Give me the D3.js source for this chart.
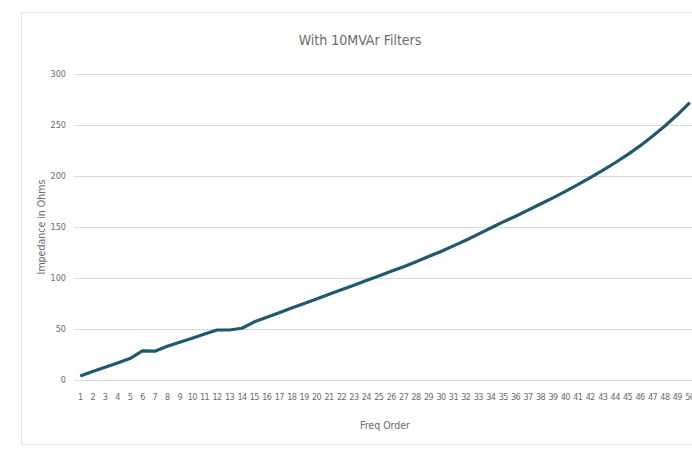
<!DOCTYPE html>
<html>
<head>
    <title>With 10MVAr Filters</title>
    <script src="https://cdnjs.cloudflare.com/ajax/libs/d3/7.8.5/d3.min.js"></script>
    <style>
        body {
            margin: 0;
            background: #fff;
        }

        text {
            font-family: "DejaVu Sans Condensed", "Liberation Sans Narrow", "Roboto", sans-serif;
            fill: #6b6b6b;
        }

        .grid line {
            stroke: #d9d9d9;
            stroke-width: 1px;
        }

        .series {
            fill: none;
            stroke: #22586e;
            stroke-width: 3.2px;
            stroke-linejoin: round;
        }
    </style>
</head>
<body>
<svg id="chart"></svg>

<script>
    const width = 692;
    const height = 455;

    // Freq order categories 1..50
    const orders = ["1","2","3","4","5","6","7","8","9","10",
        "11","12","13","14","15","16","17","18","19","20",
        "21","22","23","24","25","26","27","28","29","30",
        "31","32","33","34","35","36","37","38","39","40",
        "41","42","43","44","45","46","47","48","49","50"];

    // Impedance in Ohms
    const impedance = [4, 8.3, 12.5, 16.7, 21, 28.5, 28.3, 33, 37, 41,
        45, 49, 49, 50.7, 57, 61.5, 66, 70.5, 75, 79.5,
        84, 88.5, 93, 97.5, 102, 106.5, 111, 116, 121, 126,
        131.5, 137, 143, 149, 155, 160.5, 166.5, 172.5, 178.5, 185,
        191.5, 198.5, 205.5, 213, 221, 229.5, 239, 249, 260, 272];

    const yTicks = [0, 50, 100, 150, 200, 250, 300];

    const margin = { top: 74, right: -4, bottom: 75, left: 74 };

    const svg = d3.select("#chart")
        .attr("width", width)
        .attr("height", height);

    // chart area border
    svg.append("rect")
        .attr("x", 21.5)
        .attr("y", 12.5)
        .attr("width", 700)
        .attr("height", 432)
        .attr("fill", "#fff")
        .attr("stroke", "#e3e3e3");

    const x = d3.scaleBand()
        .domain(orders)
        .range([margin.left, width - margin.right])
        .padding(0);

    const y = d3.scaleLinear()
        .domain([0, 300])
        .range([height - margin.bottom, margin.top]);

    // gridlines
    svg.append("g")
        .attr("class", "grid")
        .selectAll("line")
        .data(yTicks)
        .join("line")
        .attr("x1", margin.left)
        .attr("x2", width - margin.right)
        .attr("y1", d => Math.round(y(d)) + 0.5)
        .attr("y2", d => Math.round(y(d)) + 0.5);

    // y axis labels
    svg.append("g")
        .selectAll("text")
        .data(yTicks)
        .join("text")
        .attr("x", 66)
        .attr("y", d => y(d))
        .attr("dy", "0.35em")
        .attr("text-anchor", "end")
        .attr("font-size", 9)
        .text(d => d);

    // x axis labels
    svg.append("g")
        .selectAll("text")
        .data(orders)
        .join("text")
        .attr("x", d => x(d) + x.bandwidth() / 2)
        .attr("y", 400)
        .attr("text-anchor", "middle")
        .attr("font-size", 9)
        .attr("letter-spacing", -0.6)
        .text(d => d);

    // the line
    const line = d3.line()
        .x((d, i) => x(orders[i]) + x.bandwidth() / 2)
        .y(d => y(d));

    svg.append("path")
        .datum(impedance)
        .attr("class", "series")
        .attr("d", line);

    // title
    svg.append("text")
        .attr("x", 360)
        .attr("y", 45)
        .attr("text-anchor", "middle")
        .attr("font-size", 14)
        .text("With 10MVAr Filters");

    // axis titles
    svg.append("text")
        .attr("x", (margin.left + width - margin.right) / 2)
        .attr("y", 429)
        .attr("text-anchor", "middle")
        .attr("font-size", 10.5)
        .text("Freq Order");

    svg.append("text")
        .attr("transform", "translate(45," + y(150) + ") rotate(-90)")
        .attr("text-anchor", "middle")
        .attr("font-size", 10.5)
        .text("Impedance in Ohms");
</script>
</body>
</html>
